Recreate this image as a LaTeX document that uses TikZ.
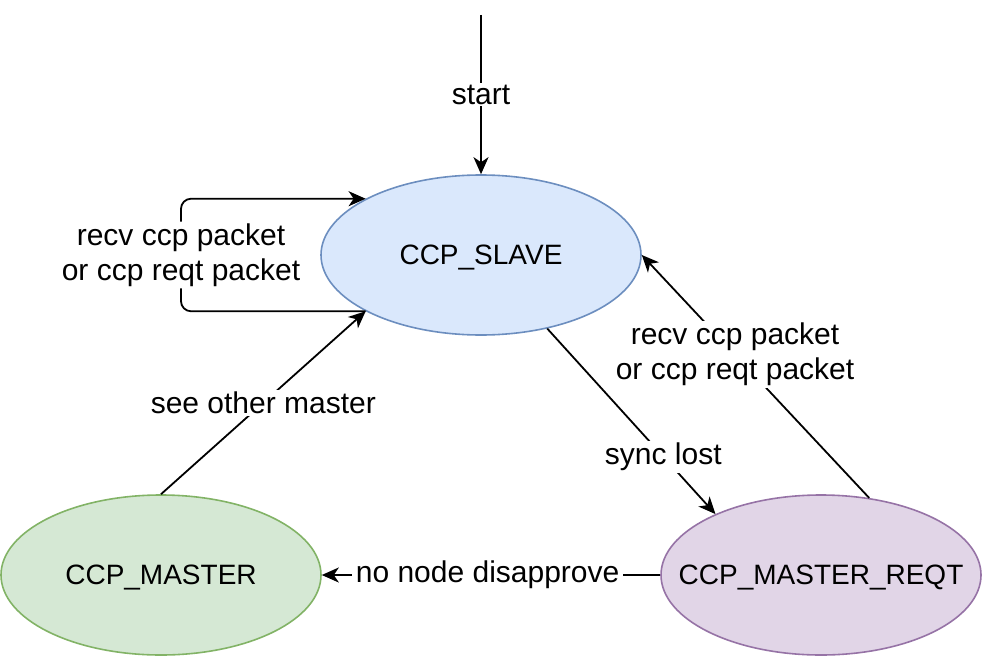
\documentclass[tikz,border=0pt]{standalone}
\usepackage{fontspec}
\setmainfont{Liberation Sans}
\usetikzlibrary{arrows.meta,shapes.geometric}

\definecolor{slavefill}{HTML}{DAE8FC}
\definecolor{slavedraw}{HTML}{6C8EBF}
\definecolor{masterfill}{HTML}{D5E8D4}
\definecolor{masterdraw}{HTML}{82B366}
\definecolor{reqtfill}{HTML}{E1D5E7}
\definecolor{reqtdraw}{HTML}{9673A6}

\begin{document}
\begin{tikzpicture}[x=1pt,y=-1pt,
		state/.style={ellipse,draw,line width=1.6pt,minimum width=320pt,minimum height=160pt,inner sep=0pt,text depth=0pt,font=\fontsize{28}{34}\selectfont},
		lbl/.style={fill=white,inner xsep=4pt,inner ysep=2pt,align=center,font=\fontsize{30}{35}\selectfont},
		trans/.style={line width=1.8pt,-{Stealth[length=17pt,width=15pt,inset=5pt]}}]
				\useasboundingbox (0,0) rectangle (984,658);
				
				\draw (481,255) node[state,draw=slavedraw,fill=slavefill] (slave) {\makebox[0pt]{CCP\_SLAVE}};
				\draw (161,575) node[state,draw=masterdraw,fill=masterfill] (master) {\makebox[0pt]{CCP\_MASTER}};
				\draw (821,575) node[state,draw=reqtdraw,fill=reqtfill] (reqt) {\makebox[0pt]{CCP\_MASTER\_REQT}};
				\coordinate (top) at (481,15);
				\coordinate (loop) at (181,255);
				
				\draw[trans] (top) -- (slave) node[midway,lbl] {start};
				\draw[trans,rounded corners=10pt] (slave.206) -| (loop) node[lbl] {recv ccp packet\\or ccp reqt packet} |- (slave.154);
				\draw[trans] (master.north) -- (slave.206) node[midway,lbl] {see other master};
				\draw[trans] (slave.312) -- (reqt.150) node[pos=0.69,lbl] {sync lost};
				\draw[trans] (reqt.58) -- (slave.east) node[pos=0.59,lbl] {recv ccp packet\\or ccp reqt packet};
				\draw[trans] (reqt.west) -- (master.east) node[pos=0.51,lbl] {no node disapprove};
			\end{tikzpicture}
\end{document}
